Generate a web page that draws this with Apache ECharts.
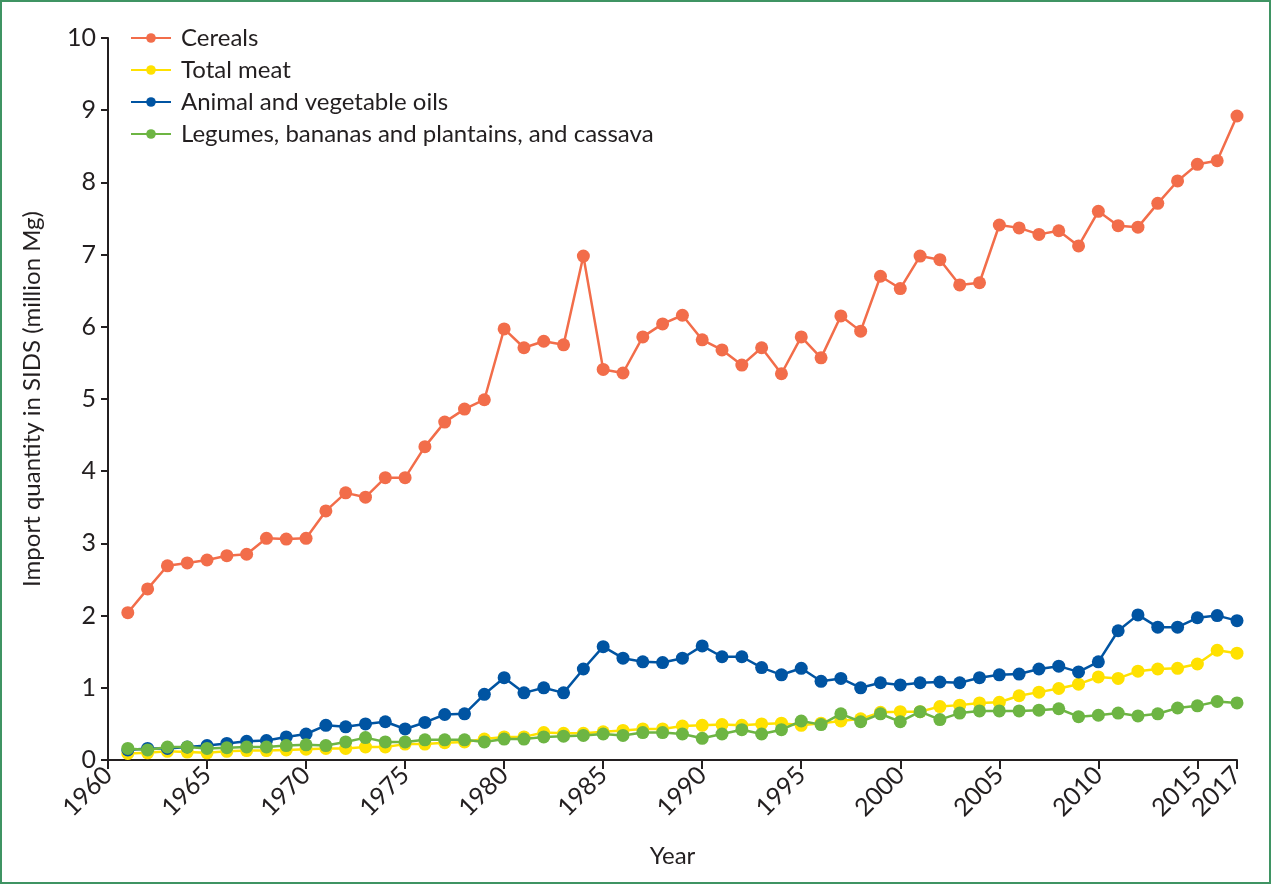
<!DOCTYPE html>
<html>
<head>
<meta charset="utf-8">
<title>SIDS import quantity</title>
<script src="https://cdn.jsdelivr.net/npm/echarts@6/dist/echarts.min.js"></script>
<style>
  html, body {
    margin: 0;
    padding: 0;
    background: #fff;
  }
  #chart {
    width: 1271px;
    height: 884px;
    box-sizing: border-box;
    border: 2px solid #3f9463;
  }
</style>
</head>
<body>
<div id="chart"></div>
<script>
// years 1961-2017
const years = [];
for (let y = 1961; y <= 2017; y++) years.push(y);

const cereals = [
  2.04, 2.37, 2.69, 2.73, 2.77, 2.83, 2.85, 3.07, 3.06, 3.07,
  3.45, 3.70, 3.64, 3.91, 3.91, 4.34, 4.68, 4.86, 4.99, 5.97,
  5.71, 5.80, 5.75, 6.98, 5.41, 5.36, 5.86, 6.04, 6.16, 5.82,
  5.68, 5.47, 5.71, 5.35, 5.86, 5.57, 6.15, 5.94, 6.70, 6.53,
  6.98, 6.93, 6.58, 6.61, 7.41, 7.37, 7.28, 7.33, 7.12, 7.60,
  7.40, 7.38, 7.71, 8.02, 8.25, 8.30, 8.92
];

const totalMeat = [
  0.09, 0.10, 0.12, 0.11, 0.10, 0.12, 0.13, 0.13, 0.14, 0.15,
  0.16, 0.16, 0.18, 0.18, 0.22, 0.22, 0.24, 0.25, 0.29, 0.32,
  0.32, 0.38, 0.37, 0.37, 0.39, 0.41, 0.43, 0.43, 0.47, 0.48,
  0.49, 0.48, 0.50, 0.51, 0.48, 0.51, 0.54, 0.57, 0.66, 0.67,
  0.67, 0.74, 0.76, 0.79, 0.80, 0.89, 0.94, 0.99, 1.05, 1.15,
  1.13, 1.23, 1.26, 1.27, 1.33, 1.52, 1.48
];

const oils = [
  0.14, 0.16, 0.16, 0.18, 0.20, 0.23, 0.26, 0.27, 0.32, 0.36,
  0.48, 0.46, 0.50, 0.53, 0.43, 0.52, 0.63, 0.64, 0.91, 1.14,
  0.93, 1.00, 0.93, 1.26, 1.57, 1.41, 1.36, 1.35, 1.41, 1.58,
  1.43, 1.43, 1.28, 1.18, 1.27, 1.09, 1.13, 1.00, 1.07, 1.04,
  1.07, 1.08, 1.07, 1.14, 1.18, 1.19, 1.26, 1.30, 1.22, 1.36,
  1.79, 2.01, 1.84, 1.84, 1.97, 2.00, 1.93
];

const legumes = [
  0.16, 0.14, 0.18, 0.18, 0.16, 0.17, 0.18, 0.18, 0.20, 0.21,
  0.20, 0.25, 0.31, 0.25, 0.25, 0.28, 0.28, 0.28, 0.25, 0.29,
  0.29, 0.32, 0.33, 0.34, 0.36, 0.34, 0.38, 0.38, 0.36, 0.30,
  0.36, 0.42, 0.36, 0.42, 0.54, 0.49, 0.64, 0.53, 0.64, 0.53,
  0.67, 0.56, 0.65, 0.68, 0.68, 0.68, 0.69, 0.71, 0.60, 0.62,
  0.65, 0.61, 0.64, 0.72, 0.75, 0.81, 0.79
];

const seriesNames = [
  'Cereals',
  'Total meat',
  'Animal and vegetable oils',
  'Legumes, bananas and plantains, and cassava'
];
const seriesColors = ['#f26d4a', '#ffe100', '#0054a2', '#6db543'];
const seriesData = [cereals, totalMeat, oils, legumes];

const textColor = '#231f20';
const fontFamily = 'Lato, "Open Sans", sans-serif';

const chart = echarts.init(document.getElementById('chart'));

const option = {
  animation: false,
  textStyle: { fontFamily: fontFamily, color: textColor },
  grid: {
    left: 106,
    right: 32,
    top: 36,
    bottom: 122
  },
  legend: {
    orient: 'vertical',
    left: 123,
    top: 19,
    itemGap: 8,
    itemWidth: 40,
    itemHeight: 12,
    textStyle: {
      fontSize: 24,
      color: textColor,
      fontFamily: fontFamily,
      padding: [0, 0, 0, 5]
    },
    data: seriesNames
  },
  xAxis: {
    type: 'value',
    min: 1960,
    max: 2017,
    interval: 5,
    name: 'Year',
    nameLocation: 'middle',
    nameGap: 84,
    nameTextStyle: { fontSize: 24, color: textColor },
    splitLine: { show: false },
    axisLine: { lineStyle: { color: textColor, width: 2 } },
    axisTick: { length: 9, lineStyle: { color: textColor, width: 2 } },
    axisLabel: {
      rotate: 45,
      fontSize: 25,
      color: textColor,
      margin: 11,
      showMaxLabel: true,
      formatter: v => String(v)
    }
  },
  yAxis: {
    type: 'value',
    min: 0,
    max: 10,
    interval: 1,
    name: 'Import quantity in SIDS (million Mg)',
    nameLocation: 'middle',
    nameGap: 64,
    nameTextStyle: { fontSize: 24, color: textColor },
    splitLine: { show: false },
    axisLine: { show: true, lineStyle: { color: textColor, width: 2 } },
    axisTick: { show: true, length: 7, lineStyle: { color: textColor, width: 2 } },
    axisLabel: { fontSize: 25, color: textColor, margin: 12 }
  },
  series: seriesNames.map((name, i) => ({
    name: name,
    type: 'line',
    data: years.map((y, j) => [y, seriesData[i][j]]),
    symbol: 'circle',
    symbolSize: 13,
    lineStyle: { width: 2.5, color: seriesColors[i] },
    itemStyle: { color: seriesColors[i] },
    emphasis: { disabled: true },
    z: 2 + i
  }))
};

chart.setOption(option);
</script>
</body>
</html>
